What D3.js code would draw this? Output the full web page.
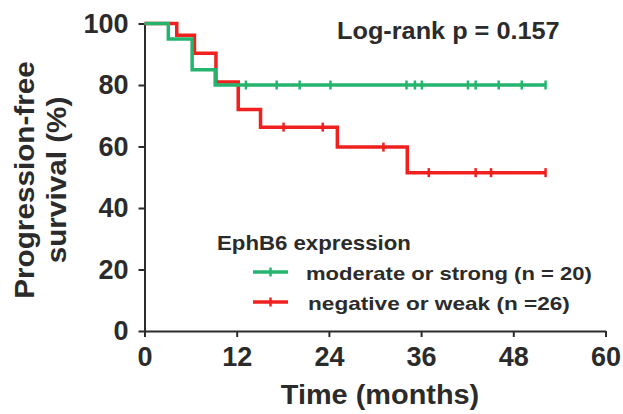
<!DOCTYPE html>
<html>
<head>
<meta charset="utf-8">
<script src="https://cdn.jsdelivr.net/npm/d3@7"></script>
<style>
  body { margin: 0; background: #fff; }
  text { font-family: "Liberation Sans", Arial, sans-serif; font-weight: bold; fill: #2b2b2b; }
</style>
</head>
<body>
<div id="chart"></div>
<script>
// values
const xTicks = [0, 12, 24, 36, 48, 60]
const yTicks = [0, 20, 40, 60, 80, 100]

// moderate or strong (n = 20)
const strongTimes = [0, 3.1, 6.2, 9.2, 52.2]
const strongValues = [100, 95, 85, 80, 80]
const strongCensor = [13.2, 17.2, 20.2, 24.2, 34.1, 35.2, 36.1, 42.1, 43.1, 46.1, 49.1, 52.2]

// negative or weak (n =26)
const weakTimes = [0, 4.2, 6.5, 9.3, 12.2, 15.1, 25.1, 34.2, 52.2]
const weakValues = [100, 96.2, 90.3, 81, 72, 66.3, 59.8, 51.5, 51.5]
const weakCensor = [18.1, 23.2, 31.1, 37.0, 43.1, 45.1, 52.2]

const legendLabels = ["moderate or strong (n = 20)", "negative or weak (n =26)"]
const green = "#25b46e"
const red = "#f0201e"

const width = 623, height = 414

const svg = d3.select("#chart").append("svg")
    .attr("width", width)
    .attr("height", height)

const xScale = d3.scaleLinear().domain([0, 60]).range([144.5, 605.5])
const yScale = d3.scaleLinear().domain([0, 100]).range([331, 23.5])

/* axes */
const xAxis = d3.axisBottom(xScale).tickValues(xTicks).tickSize(6).tickSizeOuter(0).tickPadding(10)
const yAxis = d3.axisLeft(yScale).tickValues(yTicks).tickSize(6).tickSizeOuter(0).tickPadding(10)

const gx = svg.append("g")
    .attr("transform", `translate(0,${yScale(0)})`)
    .call(xAxis)
const gy = svg.append("g")
    .attr("transform", `translate(${xScale(0)},0)`)
    .call(yAxis)

for (const g of [gx, gy]) {
  g.selectAll("path, line").attr("stroke", "#2b2b2b").attr("stroke-width", 2)
  g.selectAll("text")
    .style("font-family", "'Liberation Sans', Arial, sans-serif")
    .style("font-weight", "bold")
    .style("font-size", "27px")
    .attr("fill", "#2b2b2b")
}

/* curves */
const line = d3.line()
    .x(d => xScale(d[0]))
    .y(d => yScale(d[1]))
    .curve(d3.curveStepAfter)

function drawCurve(times, values, censor, color) {
  const pts = times.map((t, i) => [t, values[i]])
  svg.append("path")
      .datum(pts)
      .attr("fill", "none")
      .attr("stroke", color)
      .attr("stroke-width", 3.5)
      .attr("d", line)
  // survival value at a censor time
  const at = t => {
    let v = values[0]
    times.forEach((tt, i) => { if (tt <= t) v = values[i] })
    return v
  }
  svg.selectAll(null)
      .data(censor)
      .enter().append("line")
      .attr("x1", d => xScale(d))
      .attr("x2", d => xScale(d))
      .attr("y1", d => yScale(at(d)) - 4.5)
      .attr("y2", d => yScale(at(d)) + 4.5)
      .attr("stroke", color)
      .attr("stroke-width", 2.5)
}

drawCurve(weakTimes, weakValues, weakCensor, red)
drawCurve(strongTimes, strongValues, strongCensor, green)

// text stretched a bit sideways, like the picture
function stretched(x, y, sx) {
  return `translate(${x},${y}) scale(${sx},1)`
}

/* labels */
svg.append("text")
    .attr("transform", stretched(337, 38.5, 1.1))
    .style("font-size", "23px")
    .text("Log-rank p = 0.157")

svg.append("text")
    .attr("transform", stretched(380, 404, 1.07))
    .attr("text-anchor", "middle")
    .style("font-size", "27px")
    .text("Time (months)")

const yLab = svg.append("text")
    .attr("transform", "translate(0,180) rotate(-90) scale(1.1,1)")
    .attr("text-anchor", "middle")
    .style("font-size", "27px")
yLab.append("tspan").attr("x", 0).attr("y", 34).text("Progression-free")
yLab.append("tspan").attr("x", 0).attr("y", 66).text("survival (%)")

/* legend */
svg.append("text")
    .attr("transform", stretched(217, 250, 1.14))
    .style("font-size", "19.5px")
    .attr("fill", "#333")
    .text("EphB6 expression")

const legend = svg.selectAll(".legend")
    .data(legendLabels)
    .enter().append("g")
    .attr("class", "legend")
    .attr("transform", (d, i) => `translate(0,${272 + i * 30})`)

legend.append("line")
    .attr("x1", 253).attr("x2", 288)
    .attr("stroke", (d, i) => i === 0 ? green : red)
    .attr("stroke-width", 3.5)
legend.append("line")
    .attr("x1", 270.5).attr("x2", 270.5)
    .attr("y1", -4.5).attr("y2", 4.5)
    .attr("stroke", (d, i) => i === 0 ? green : red)
    .attr("stroke-width", 2.5)
legend.append("text")
    .attr("transform", (d, i) => i === 0 ? stretched(306, 7.5, 1.16) : stretched(308, 7.5, 1.19))
    .style("font-size", "19px")
    .attr("fill", "#333")
    .text(d => d)
</script>
</body>
</html>
